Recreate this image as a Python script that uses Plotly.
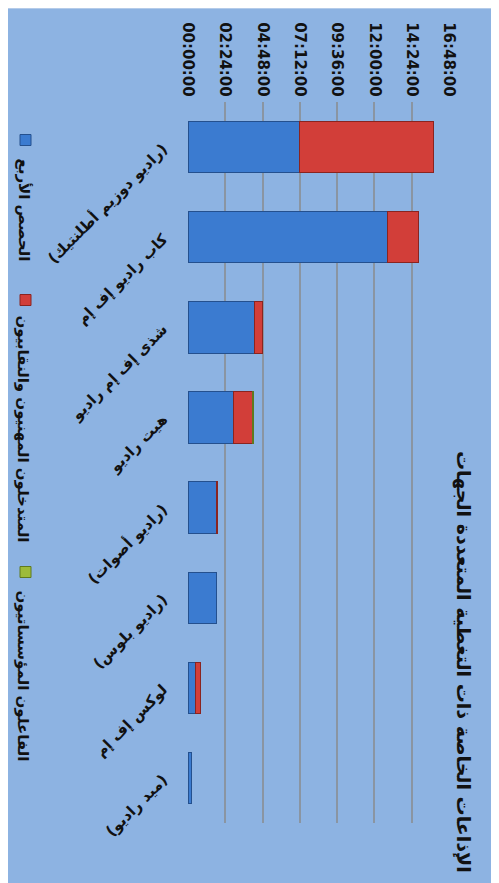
import plotly.graph_objects as go

# ---- data ----
categories = [
    "(راديو دوزيم أطلنتيك)",
    "كاب راديو إف إم",
    "شذى إف إم راديو",
    "هيت راديو",
    "(راديو أصوات)",
    "(راديو بلوس)",
    "لوكس إف إم",
    "(ميد راديو)",
]
series_names = ["الحصص الأربع", "المتدخلون المهنيون والنقابيون", "الفاعلون المؤسساتيون"]
hours_four = [7.2, 12.85, 4.3, 2.95, 1.85, 1.85, 0.5, 0.2]
hours_prof = [8.6, 2.0, 0.5, 1.2, 0.06, 0.0, 0.3, 0.0]
hours_inst = [0.0, 0.0, 0.0, 0.05, 0.0, 0.0, 0.0, 0.0]
tick_days = [0, 0.1, 0.2, 0.3, 0.4, 0.5, 0.6, 0.7]
tick_labels = ["00:00:00", "02:24:00", "04:48:00", "07:12:00", "09:36:00", "12:00:00", "14:24:00", "16:48:00"]
title_text = "الإذاعات الخاصة ذات التغطية المتعددة الجهات"

colors = ["#3b7bd0", "#d23e39", "#9dbb3a"]
line_colors = ["#24508e", "#8a2420", "#5f7a1e"]

OFF = 8  # page body margin
W, H = 499 - OFF, 883 - OFF
L, R, T, B = 188 - OFF, 50, 102 - OFF, 60
pw, ph = W - L - R, H - T - B

def px_x(px):  # page pixel -> paper
    return (px - OFF - L) / pw

def px_y(py):
    return (H - B - (py - OFF)) / ph

fig = go.Figure()
for name, vals, c, lc in zip(series_names, [hours_four, hours_prof, hours_inst], colors, line_colors):
    fig.add_trace(go.Bar(
        y=categories, x=[v / 24 if v else None for v in vals], name=name, orientation="h",
        marker=dict(color=c, line=dict(color=lc, width=1)),
        width=0.57,
    ))

shapes = [
    dict(type="rect", xref="paper", yref="paper", layer="below",
         x0=px_x(0), x1=px_x(493), y0=px_y(8), y1=px_y(890),
         fillcolor="#8db3e2", line=dict(color="#b4cbe9", width=2)),
]
annotations = [
    dict(text="<b>" + title_text + "</b>", textangle=90, xref="paper", yref="paper",
         x=px_x(464), y=px_y(662), xanchor="center", yanchor="middle",
         showarrow=False, font=dict(family="DejaVu Sans", size=19, color="#111111")),
]
leg_sq_y = [140, 300, 572]
leg_txt_y = [156, 313, 588]
for name, c, lc, sy, ty in zip(series_names, colors, line_colors, leg_sq_y, leg_txt_y):
    shapes.append(dict(type="rect", xref="paper", yref="paper",
                       x0=px_x(20), x1=px_x(31), y0=px_y(sy - 5.5), y1=px_y(sy + 5.5),
                       fillcolor=c, line=dict(color=lc, width=1)))
    annotations.append(dict(text="<b>" + name + "</b>", textangle=90, xref="paper", yref="paper",
                            x=px_x(23), y=px_y(ty), xanchor="center", yanchor="top",
                            showarrow=False,
                            font=dict(family="DejaVu Sans", size=15, color="#111111")))

fig.update_layout(
    width=W, height=H,
    margin=dict(l=L, r=R, t=T, b=B),
    barmode="stack",
    showlegend=False,
    paper_bgcolor="white",
    plot_bgcolor="#c8daf1",
    shapes=shapes,
    annotations=annotations,
)
fig.update_xaxes(
    side="top", range=[0, 0.7], tickvals=tick_days, ticktext=tick_labels,
    tickangle=90, showgrid=True, gridcolor="#8a95a2", gridwidth=1.5,
    zeroline=False, showline=False,
    tickfont=dict(family="DejaVu Sans", size=15, color="#111111", weight="bold"),
    ticks="", ticklabelstandoff=2,
)
fig.update_yaxes(
    autorange="reversed", tickangle=-45, showgrid=False,
    tickfont=dict(family="DejaVu Sans", size=15, color="#111111", weight="bold"),
    ticks="", ticklabelstandoff=24, showline=False,
)
fig.write_html("out.html")
